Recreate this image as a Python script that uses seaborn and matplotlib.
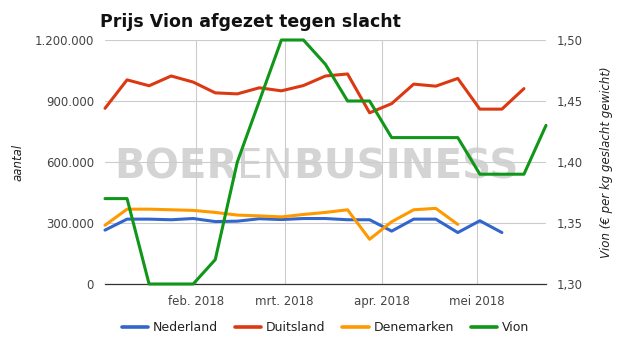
import numpy as np
import pandas as pd
import matplotlib
matplotlib.use('Agg')
import matplotlib.pyplot as plt
from matplotlib.ticker import FuncFormatter
from matplotlib.lines import Line2D
import seaborn as sns

sns.set_theme(style='white')
plt.rcParams['font.family'] = ['DejaVu Sans']

# weekcijfers 2018
weken = pd.date_range('2018-01-03', periods=21, freq='7D')

nederland = [265000, 319000, 319000, 316000, 322000, 307000, 309000, 321000, 317000, 322000,
             322000, 316000, 316000, 260000, 319000, 319000, 253000, 311000, 253000]
duitsland = [864000, 1004000, 975000, 1023000, 993000, 940000, 935000, 965000, 950000, 976000,
             1023000, 1033000, 842000, 887000, 983000, 973000, 1011000, 860000, 860000, 961000]
denemarken = [289000, 368000, 368000, 365000, 362000, 352000, 339000, 335000, 330000, 342000,
              352000, 365000, 220000, 306000, 365000, 372000, 293000]
vion = [1.37, 1.37, 1.30, 1.30, 1.30, 1.32, 1.40, 1.45, 1.50, 1.50, 1.48,
        1.45, 1.45, 1.42, 1.42, 1.42, 1.42, 1.39, 1.39, 1.39, 1.43]

maanden = pd.to_datetime(['2018-02-01', '2018-03-01', '2018-04-01', '2018-05-01'])
maand_labels = ['feb. 2018', 'mrt. 2018', 'apr. 2018', 'mei 2018']

kleuren = {'Nederland': '#3366cc', 'Duitsland': '#dc3912', 'Denemarken': '#ff9900'}
vion_kleur = '#109618'

df = pd.concat([
    pd.DataFrame({'datum': weken[:len(nederland)], 'aantal': nederland, 'land': 'Nederland'}),
    pd.DataFrame({'datum': weken[:len(duitsland)], 'aantal': duitsland, 'land': 'Duitsland'}),
    pd.DataFrame({'datum': weken[:len(denemarken)], 'aantal': denemarken, 'land': 'Denemarken'}),
])

fig = plt.figure(figsize=(6.25, 3.55), dpi=100)
ax = fig.add_axes([105 / 625, 71 / 355, 441 / 625, 244 / 355])
ax2 = ax.twinx()

sns.lineplot(data=df, x='datum', y='aantal', hue='land', palette=kleuren,
             linewidth=2.2, ax=ax, legend=False, clip_on=False)
sns.lineplot(x=weken, y=vion, color=vion_kleur, linewidth=2.2, ax=ax2,
             legend=False, clip_on=False)

ax.set_xlim(weken[0], weken[-1])
ax.set_ylim(0, 1200000)
ax.set_yticks([0, 300000, 600000, 900000, 1200000])
ax.yaxis.set_major_formatter(FuncFormatter(lambda v, p: f"{int(v):,}".replace(',', '.')))
ax2.set_ylim(1.30, 1.50)
ax2.set_yticks([1.30, 1.35, 1.40, 1.45, 1.50])
ax2.yaxis.set_major_formatter(FuncFormatter(lambda v, p: f"{v:.2f}".replace('.', ',')))

ax.set_xticks(maanden)
ax.set_xticklabels(maand_labels)
ax.grid(True, color='#cccccc', linewidth=0.8)
ax.set_axisbelow(True)

for a in (ax, ax2):
    for s in a.spines.values():
        s.set_visible(False)
    a.tick_params(length=0, labelsize=8.5, labelcolor='#444444')
ax.spines['bottom'].set_visible(True)
ax.spines['bottom'].set_color('#333333')
ax.spines['bottom'].set_linewidth(0.9)
ax.tick_params(axis='y', pad=8)
ax.tick_params(axis='x', pad=8)
ax2.tick_params(axis='y', pad=8)

ax.set_xlabel('')
ax.set_ylabel('aantal', fontstyle='italic', fontsize=8.5, color='#222222', labelpad=7)
ax2.set_ylabel('Vion (€ per kg geslacht gewicht)', fontstyle='italic', fontsize=8.5,
               color='#222222', labelpad=12)

# watermerk, stukken achter elkaar gezet
renderer = fig.canvas.get_renderer()
x0 = 0.02
for stuk, gewicht in [('BOER', 'bold'), ('EN', 'normal'), ('BUSINESS', 'bold')]:
    t = ax.text(x0, 0.434, stuk, transform=ax.transAxes, fontsize=29, color='#d4d4d4',
                fontweight=gewicht, va='baseline', zorder=0.5)
    bb = t.get_window_extent(renderer).transformed(ax.transAxes.inverted())
    x0 = bb.x1

fig.text(100 / 625, 1 - 27 / 355, 'Prijs Vion afgezet tegen slacht', fontsize=12.5,
         fontweight='bold', color='#111111', va='baseline')

handles = [Line2D([], [], color=c, linewidth=2.6) for c in kleuren.values()]
handles.append(Line2D([], [], color=vion_kleur, linewidth=2.6))
labels = list(kleuren.keys()) + ['Vion']
ax.legend(handles, labels, loc='center', bbox_to_anchor=(0.5, -0.18), ncol=4,
          frameon=False, fontsize=9, handlelength=2.1, handletextpad=0.4,
          columnspacing=1.35, labelcolor='#222222')

fig.savefig('out.png', dpi=100)
